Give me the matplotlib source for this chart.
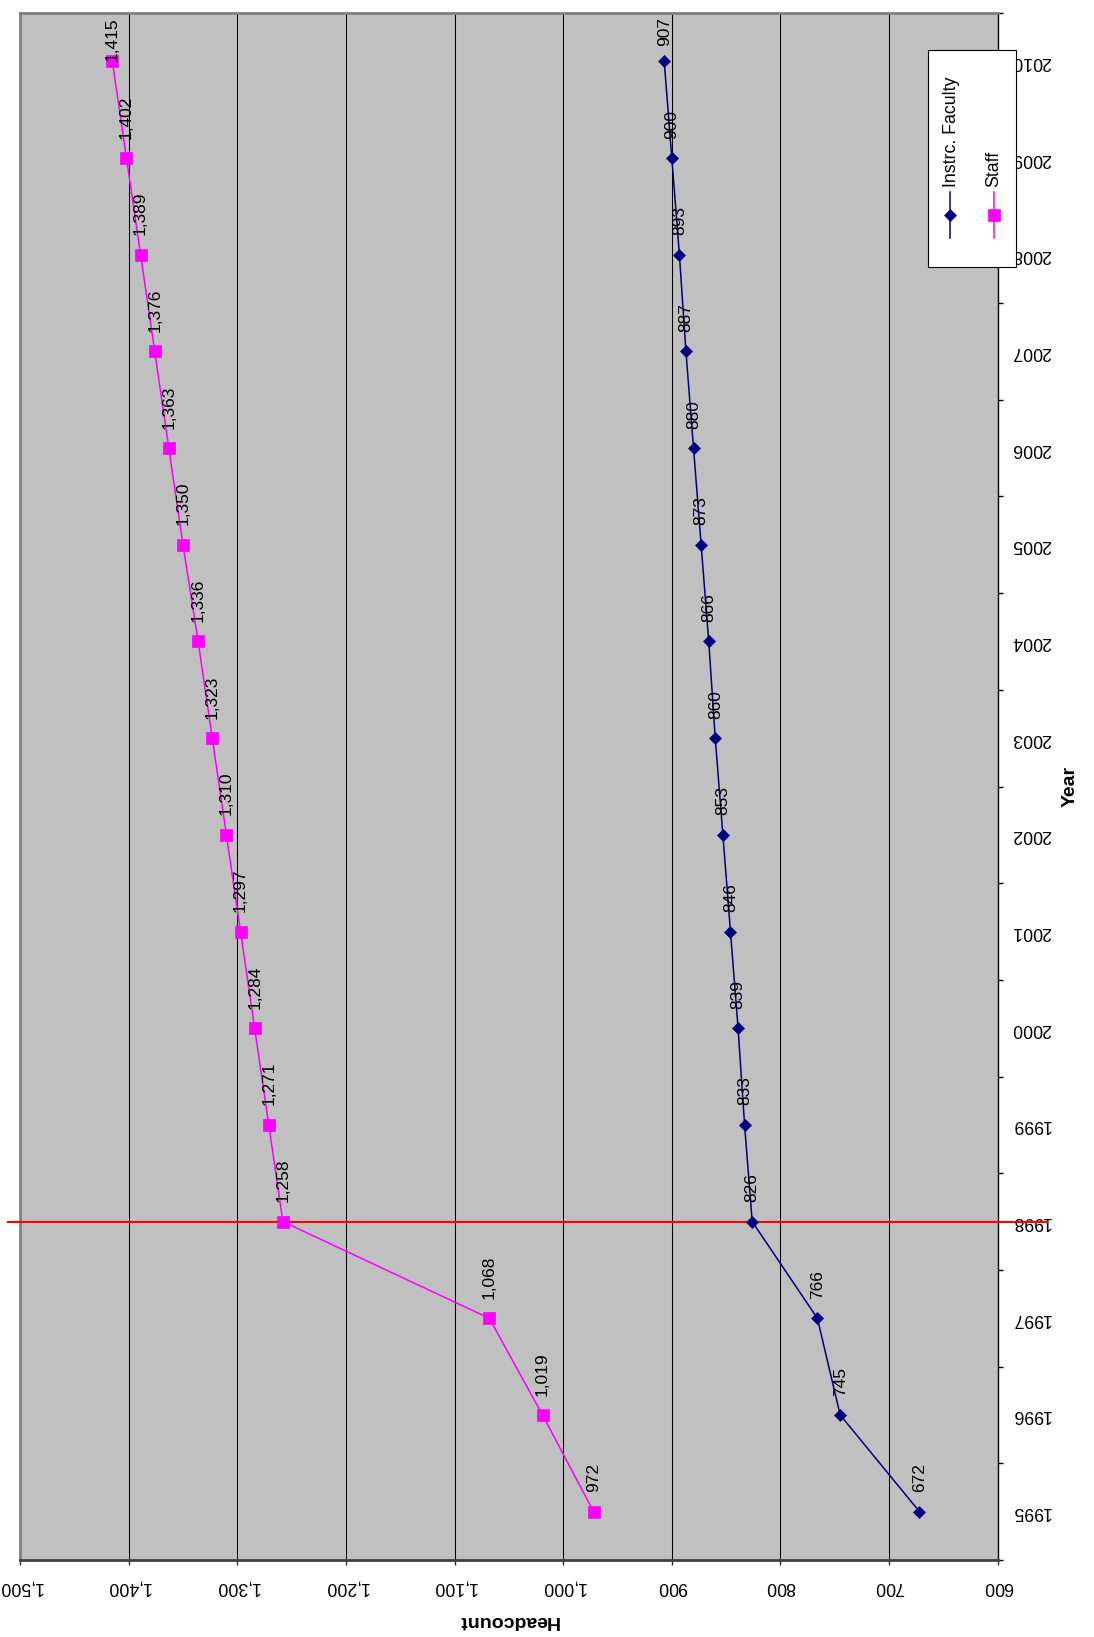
import matplotlib
matplotlib.use('Agg')
import matplotlib.pyplot as plt
import matplotlib.transforms as mtransforms
from matplotlib.lines import Line2D
from matplotlib.patches import Rectangle

# Headcount by year
years = list(range(1995, 2011))
faculty = [672, 745, 766, 826, 833, 839, 846, 853, 860, 866, 873, 880, 887, 893, 900, 907]
staff = [972, 1019, 1068, 1258, 1271, 1284, 1297, 1310, 1323, 1336, 1350, 1363, 1376, 1389, 1402, 1415]
headcount_ticks = list(range(600, 1501, 100))
marker_year = 1998
series_names = ['Instrc. Faculty', 'Staff']

FACULTY_COLOR = '#000080'
STAFF_COLOR = '#FF00FF'

plt.rcParams['font.family'] = ['Liberation Sans', 'DejaVu Sans']

W, H = 1094, 1637
fig = plt.figure(figsize=(W / 100, H / 100), dpi=100)
ax = fig.add_axes([20 / W, 1 - 1560 / H, (997.7 - 20) / W, (1560 - 13) / H])
ax.set_facecolor('#C0C0C0')
ax.set_xlim(1500, 600)
ax.set_ylim(years[0] - 0.5, years[-1] + 0.5)

# series (value runs horizontally, year vertically)
ax.plot(faculty, years, color=FACULTY_COLOR, lw=1.1, marker='D', ms=6.3,
        mfc=FACULTY_COLOR, mec=FACULTY_COLOR, mew=0.5, zorder=4, clip_on=False)
ax.plot(staff, years, color=STAFF_COLOR, lw=1.1, marker='s', ms=8.5,
        mfc=STAFF_COLOR, mec=STAFF_COLOR, mew=0.5, zorder=4, clip_on=False)

# value labels
labels = []
for values in (faculty, staff):
    for v, yr in zip(values, years):
        t = ax.annotate(f"{v:,}", (v, yr), xytext=(0, 14), textcoords='offset points',
                        rotation=90, ha='center', va='bottom', fontsize=12.5, zorder=5)
        labels.append(t)

# headcount axis
ax.set_xticks(headcount_ticks)
ax.set_xticklabels([f"{v:,}" for v in headcount_ticks], rotation=180,
                   ha='center', va='top', fontsize=12.8)
ax.tick_params(axis='x', which='major', direction='out', length=3.6, width=1,
               color='#303030', pad=9.5)
ax.grid(axis='x', color='black', lw=0.75)
ax.set_axisbelow(True)
ax.set_xlabel('Headcount', fontsize=14, fontweight='bold', rotation=180)
ax.xaxis.set_label_coords(0.5, (1560 - 1620.5) / 1547)
ax.xaxis.label.set_va('center')

# year axis on the right
ax.yaxis.tick_right()
ax.set_yticks(years)
ax.set_yticklabels([str(y) for y in years], rotation=180, ha='left', va='center',
                   fontsize=12.8)
ax.set_yticks([y - 0.5 for y in years] + [years[-1] + 0.5], minor=True)
ax.tick_params(axis='y', which='major', length=0, pad=9.5, right=True, left=False)
ax.tick_params(axis='y', which='minor', direction='out', length=3.6, width=1,
               color='black', right=True, left=False)
ax.yaxis.set_label_position('right')
ax.set_ylabel('Year', fontsize=14, fontweight='bold', rotation=90)
ax.yaxis.set_label_coords((1070.5 - 20) / 977.7, 0.5)
ax.yaxis.label.set_va('center')
ax.yaxis.label.set_ha('center')

for side, color, lw in [('left', '#808080', 2), ('top', '#808080', 2),
                        ('bottom', '#404040', 2), ('right', 'black', 1)]:
    ax.spines[side].set_color(color)
    ax.spines[side].set_linewidth(lw)

# reference line at the marker year
trans = mtransforms.blended_transform_factory(fig.transFigure, ax.transData)
ax.add_line(Line2D([8 / W, 1047 / W], [marker_year, marker_year], transform=trans,
                   color='red', lw=1.5, clip_on=False, zorder=3))

# legend box
fig.add_artist(Rectangle((928.3 / W, 1 - 267 / H), (1016 - 928.3) / W, (267 - 50) / H,
                         transform=fig.transFigure, facecolor='white',
                         edgecolor='black', lw=0.8, zorder=10))
legend_entries = [(950, FACULTY_COLOR, 'D', 6.3, 951), (994, STAFF_COLOR, 's', 8.5, 994)]
for name, (lx, col, mk, ms, tx) in zip(series_names, legend_entries):
    fig.add_artist(Line2D([lx / W, lx / W], [1 - 192 / H, 1 - 238 / H],
                          transform=fig.transFigure, color=col, lw=1.1, zorder=11))
    fig.add_artist(Line2D([lx / W], [1 - 215 / H], transform=fig.transFigure,
                          marker=mk, ms=ms, mfc=col, mec=col, mew=0.5, zorder=11))
    fig.text(tx / W, 1 - 187 / H, name, rotation=90, ha='center', va='bottom',
             fontsize=12.8, zorder=12)

# keep value labels inside the plot area
fig.canvas.draw()
renderer = fig.canvas.get_renderer()
limit = ax.get_window_extent(renderer).y1 - 4
for t in labels:
    bb = t.get_window_extent(renderer)
    if bb.y1 > limit:
        dy = (bb.y1 - limit) * 72 / fig.dpi
        t.xyann = (0, 14 - dy)

fig.savefig('out.png', dpi=100)
